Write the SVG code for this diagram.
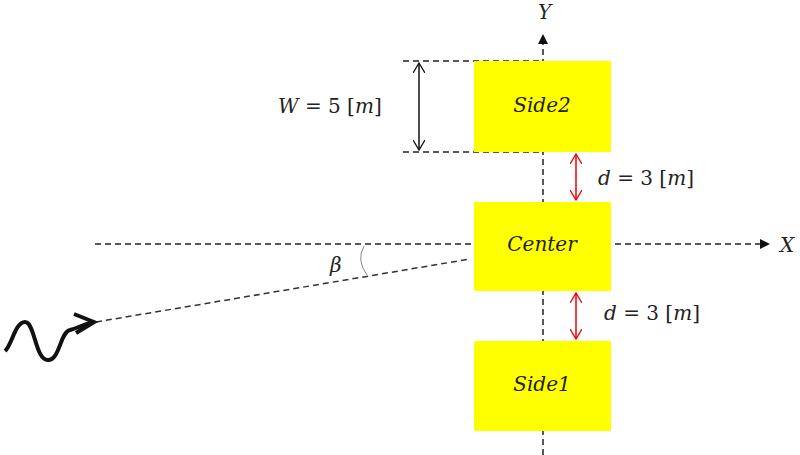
<svg xmlns="http://www.w3.org/2000/svg" width="800" height="455" viewBox="0 0 800 455">
<style>
.box{fill:#ffff00}
.lbl{font-family:"DejaVu Serif","Liberation Serif",serif;font-style:italic;font-size:20px;fill:#222}
.dash{stroke:#222;stroke-width:1.5;stroke-dasharray:6,4;fill:none}
</style>
<defs>
<marker id="tri" markerWidth="10" markerHeight="10" refX="8" refY="5" orient="auto" markerUnits="userSpaceOnUse"><path d="M0,0L10,5L0,10z" fill="#111"/></marker>
<marker id="openB" markerWidth="12" markerHeight="12" refX="10" refY="6" orient="auto-start-reverse" markerUnits="userSpaceOnUse"><path d="M0,0L10,6L0,12" fill="none" stroke="#111" stroke-width="1.3"/></marker>
<marker id="openR" markerWidth="12" markerHeight="12" refX="10" refY="6" orient="auto-start-reverse" markerUnits="userSpaceOnUse"><path d="M0,0L10,6L0,12" fill="none" stroke="#e00" stroke-width="1.3"/></marker>
</defs>
<rect width="800" height="455" fill="#fff"/>
<g id="connectors">
<line class="dash" x1="543" y1="455" x2="543" y2="36" marker-end="url(#tri)"/>
<line class="dash" x1="95" y1="244" x2="768" y2="244" marker-end="url(#tri)"/>
<line class="dash" x1="403" y1="61" x2="543" y2="61"/>
<line class="dash" x1="403" y1="152" x2="543" y2="152"/>
<line x1="419" y1="63" x2="419" y2="150" stroke="#111" stroke-width="1.5" marker-start="url(#openB)" marker-end="url(#openB)"/>
<line x1="576" y1="154" x2="576" y2="200" stroke="#e00" stroke-width="1.5" marker-start="url(#openR)" marker-end="url(#openR)"/>
<line x1="576" y1="293" x2="576" y2="339" stroke="#e00" stroke-width="1.5" marker-start="url(#openR)" marker-end="url(#openR)"/>
<line x1="96" y1="322" x2="470" y2="259" stroke="#333" stroke-width="1.5" stroke-dasharray="6,4"/>
<path d="M364,246 Q356,260 367,275" fill="none" stroke="#888" stroke-width="1"/>
<path d="M5,351 C12,345 15,322 25,322 C35,322 35,360 48,360 C60,360 60,332 70,330 C78,328 82,325 90,323" fill="none" stroke="#111" stroke-width="4"/>
<path d="M74,314 L94,322 L76,333" fill="none" stroke="#111" stroke-width="4"/>
</g>
<g id="side2"><rect class="box" x="474" y="61" width="137" height="91"/><text class="lbl" x="542" y="112" text-anchor="middle">Side2</text></g>
<g id="center"><rect class="box" x="474" y="202" width="137" height="89"/><text class="lbl" x="542" y="251" text-anchor="middle">Center</text></g>
<g id="side1"><rect class="box" x="474" y="341" width="137" height="90"/><text class="lbl" x="542" y="391" text-anchor="middle">Side1</text></g>
<g id="labels">
<text class="lbl" x="538" y="19">Y</text>
<text class="lbl" x="780" y="252">X</text>
<text class="lbl" x="278" y="113">W <tspan font-style="normal">= 5 [</tspan>m<tspan font-style="normal">]</tspan></text>
<text class="lbl" x="598" y="185">d <tspan font-style="normal">= 3 [</tspan>m<tspan font-style="normal">]</tspan></text>
<text class="lbl" x="604" y="320">d <tspan font-style="normal">= 3 [</tspan>m<tspan font-style="normal">]</tspan></text>
<text class="lbl" x="330" y="272" font-size="18">β</text>
</g>
</svg>
